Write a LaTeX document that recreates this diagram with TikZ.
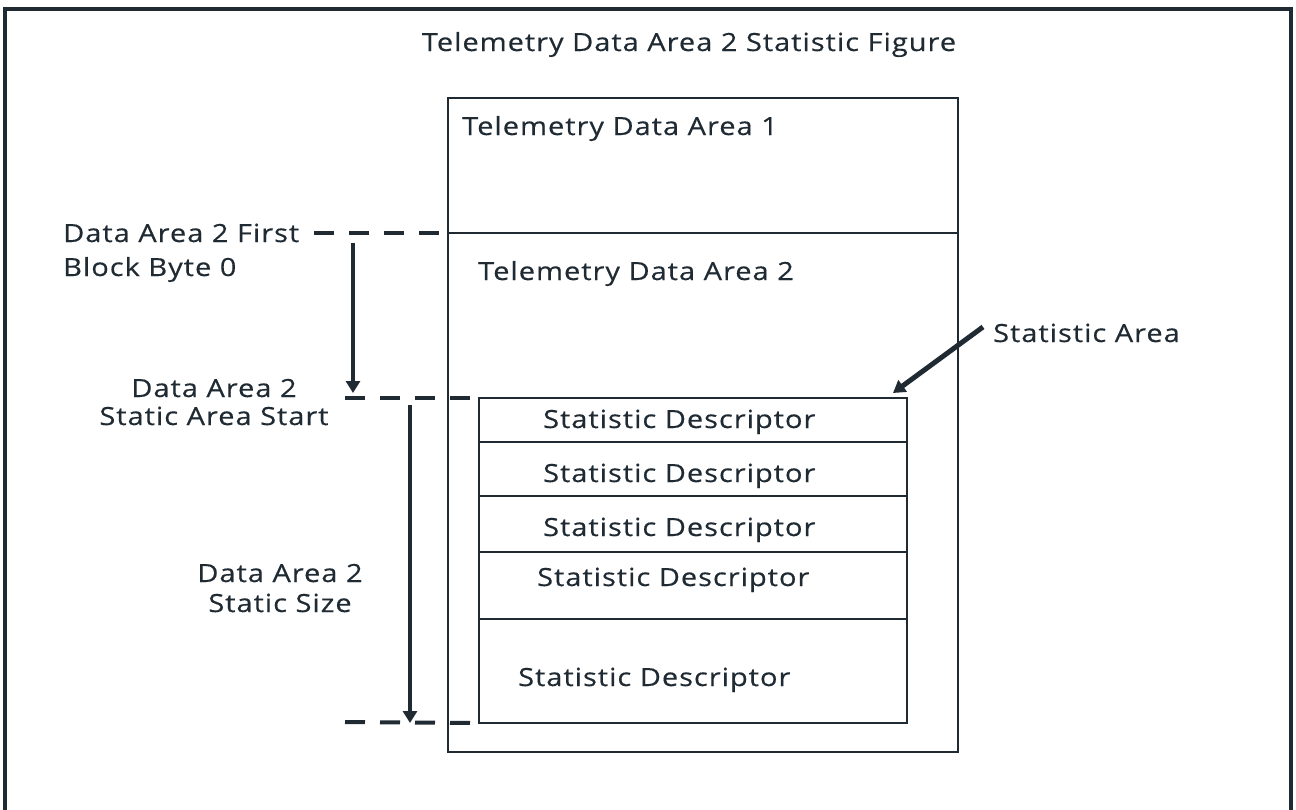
\documentclass[tikz,border=0pt]{standalone}
\usepackage{fontspec}
\setmainfont{Open Sans}[FakeStretch=1.16, LetterSpace=4, FakeBold=0.4]
\usetikzlibrary{positioning,arrows.meta}

\definecolor{ink}{RGB}{31,42,51}

\begin{document}
\begin{tikzpicture}[x=1pt, y=-1pt,
    every node/.style={text=ink, font=\fontsize{25}{30}\selectfont},
    blk/.style={draw=ink, line width=2.5pt, inner sep=0pt, outer sep=0pt, minimum width=#1},
    lbl/.style={inner sep=0pt, anchor=base west},
    mid/.style={inner sep=0pt, anchor=base, align=center},
    guide/.style={draw=ink, line width=4pt, dash pattern=on 20pt off 15pt},
    ptr/.style={draw=ink, line width=4pt, -{Triangle[length=12pt, width=14pt]}},
    frame/.style={draw=ink, line width=4.5pt}
]
    \clip (0,0) rectangle (1296,809);
    \useasboundingbox (0,0) rectangle (1296,809);

    % outer frame, its bottom edge runs off the page
    \draw[frame] (5,9) rectangle (1291,840);

    \node[mid] (title) at (689,51) {Telemetry Data Area 2 Statistic Figure};

    % telemetry areas
    \node[blk=510pt, minimum height=135pt, anchor=north west] (areaone) at (448,98) {};
    \node[blk=510pt, minimum height=519pt, below=0pt of areaone] (areatwo) {};

    \node[lbl] (areaonelbl) at (462,135) {Telemetry Data Area 1};
    \node[lbl] (areatwolbl) at (478,280) {Telemetry Data Area 2};

    % statistic descriptors
    \node[blk=428pt, minimum height=44pt, anchor=north west] (desc1) at (479,398) {};
    \node[blk=428pt, minimum height=54pt, below=0pt of desc1] (desc2) {};
    \node[blk=428pt, minimum height=56pt, below=0pt of desc2] (desc3) {};
    \node[blk=428pt, minimum height=67pt, below=0pt of desc3] (desc4) {};
    \node[blk=428pt, minimum height=104pt, below=0pt of desc4] (desc5) {};

    \node[lbl] (desc1lbl) at (543,428) {Statistic Descriptor};
    \node[lbl] (desc2lbl) at (543,482) {Statistic Descriptor};
    \node[lbl] (desc3lbl) at (543,536) {Statistic Descriptor};
    \node[lbl] (desc4lbl) at (537,586) {Statistic Descriptor};
    \node[lbl] (desc5lbl) at (518,686) {Statistic Descriptor};

    \node[lbl] (statlbl) at (993,342) {Statistic Area};
    \coordinate (stattip) at (893,393);
    \draw[ptr, line width=5pt] ([xshift=-10pt, yshift=6pt]statlbl.west) -- (stattip);

    % offsets on the left (base sits on the last line)
    \node[lbl, align=left] (firstlbl) at (63,276) {Data Area 2 First\\[4pt]Block Byte 0};
    \node[mid] (startlbl) at (214,425) {Data Area 2\\[-2pt]Static Area Start};
    \node[mid] (sizelbl) at (280,612) {Data Area 2\\Static Size};

    \coordinate (firstdash) at (314,233);
    \coordinate (startdash) at (345,398);
    \coordinate (enddash) at (345,722);
    \draw[guide] (firstdash) -- (areaone.south west);
    \draw[guide] (startdash) -- (desc1.north west);
    \draw[guide] (enddash) -- (desc5.south west);

    \coordinate (offtop) at (353,243);
    \coordinate (offend) at (353,393);
    \draw[ptr] (offtop) -- (offend);

    \coordinate (sizetop) at (410,405);
    \coordinate (sizeend) at (410,723);
    \draw[ptr] (sizetop) -- (sizeend);
\end{tikzpicture}
\end{document}
